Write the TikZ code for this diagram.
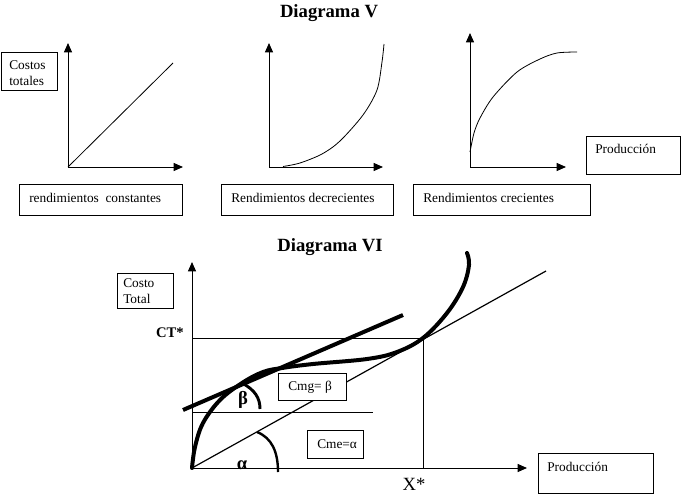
\documentclass[tikz,border=0pt]{standalone}
\usepackage{fontspec}
\setmainfont{Liberation Serif}
\usetikzlibrary{arrows.meta,fit}
\begin{document}
\begin{tikzpicture}[x=0.75pt,y=-0.75pt,
  axis/.style={line width=0.75pt,-{Triangle[length=7pt,width=6pt]}},
  thinline/.style={line width=0.6pt},
  box/.style={draw,line width=0.6pt,fill=white,inner sep=0pt},
  txt/.style={inner sep=0pt,anchor=west,font=\fontsize{10pt}{12pt}\selectfont},
  ttl/.style={inner sep=0pt,font=\fontsize{14pt}{16pt}\selectfont\bfseries},
  greek/.style={inner sep=0pt,font=\fontsize{14pt}{16pt}\selectfont\bfseries},
  thickcurve/.style={line width=3pt,line cap=round,line join=round},
]
\useasboundingbox (0,0) rectangle (681,496);
% ---------- Diagrama V ----------
\node[ttl] (t5) at (329,13) {Diagrama V};
% panel 1
\coordinate (o1) at (68,167);
\coordinate (y1) at (68,43);
\coordinate (x1) at (183,167);
\coordinate (e1) at (173,63);
\draw[axis] (o1) -- (y1);
\draw[axis] (o1) -- (x1);
\draw[thinline] (o1) -- (e1);
\node[box,fit={(1,52) (57,90)}] (bct) {};
\node[txt,align=left] (lct) at (9,73) {Costos\\totales};
\node[box,fit={(19,184) (182,215)}] (b1) {};
\node[txt] (l1) at (29,198) {rendimientos\ \ constantes};
% panel 2
\coordinate (o2) at (269,167);
\coordinate (y2) at (269,43);
\coordinate (x2) at (383,167);
\draw[axis] (o2) -- (y2);
\draw[axis] (o2) -- (x2);
\draw[thinline] plot[smooth] coordinates {(283,166.5) (300,163) (322,154) (340,141) (363,115) (377,90) (382,62) (384,44)};
\node[box,fit={(221,184) (393,215)}] (b2) {};
\node[txt] (l2) at (231,198) {Rendimientos decrecientes};
% panel 3
\coordinate (o3) at (470,167);
\coordinate (y3) at (470,33);
\coordinate (x3) at (566,167);
\draw[axis] (o3) -- (y3);
\draw[axis] (o3) -- (x3);
\draw[thinline] plot[smooth] coordinates {(470,152) (474,133) (480,118) (493,97) (517,72) (540,59) (557,53) (577,52)};
\node[box,fit={(413,184) (590,215)}] (b3) {};
\node[txt] (l3) at (423,198) {Rendimientos crecientes};
\node[box,fit={(586,136) (680,174)}] (bp1) {};
\node[txt] (lp1) at (595,149) {Producción};
% ---------- Diagrama VI ----------
\node[ttl] (t6) at (330,247) {Diagrama VI};
\coordinate (o) at (192,468);
\coordinate (ya) at (192,262);
\coordinate (xa) at (527,468);
\coordinate (ct) at (192,338);
\coordinate (p) at (423,338);
\coordinate (px) at (423,468);
\coordinate (h1) at (192,412);
\coordinate (h2) at (373,412);
\coordinate (r2) at (546,271);
\coordinate (ta) at (183,410);
\coordinate (tb) at (403,315);
\draw[axis] (o) -- (ya);
\draw[axis] (o) -- (xa);
\draw[thinline] (ct) -- (p) -- (px);
\draw[thinline] (h1) -- (h2);
\draw[line width=0.9pt] (o) -- (r2);
\draw[thickcurve,line cap=butt] (ta) -- (tb);
\draw[thickcurve] plot[smooth,tension=0.6] coordinates {(192,468) (195,447) (203,423) (220,400) (242,383) (263,372) (282,368) (313,364) (367,359) (397,352) (423,338) (447,313) (463,287) (469,265) (467,253)};
% beta arc
\draw[line width=2.2pt] (242,383) .. controls (255,390) and (260,398) .. (260,409);
% alpha arc
\draw[line width=1.8pt] (257,432) .. controls (272,438) and (278,452) .. (278,472);
\node[greek] (beta) at (243,400) {β};
\node[greek] (alpha) at (242,465) {α};
\node[inner sep=0pt,anchor=east,font=\fontsize{11pt}{13pt}\selectfont\bfseries] (lct2) at (184,333) {CT*};
\node[inner sep=0pt,font=\fontsize{14pt}{16pt}\selectfont] (lx) at (414,484) {X*};
\node[box,fit={(117,273) (173,308)}] (bc) {};
\node[txt,align=left] (lc) at (123,291) {Costo\\Total};
\node[box,fit={(278,373) (346,400)}] (bmg) {};
\node[txt] (lmg) at (288,387) {Cmg= β};
\node[box,fit={(307,430) (363,458)}] (bme) {};
\node[txt] (lme) at (317,444) {Cme=α};
\node[box,fit={(538,453) (653,493)}] (bp2) {};
\node[txt] (lp2) at (547,467) {Producción};
\end{tikzpicture}
\end{document}
